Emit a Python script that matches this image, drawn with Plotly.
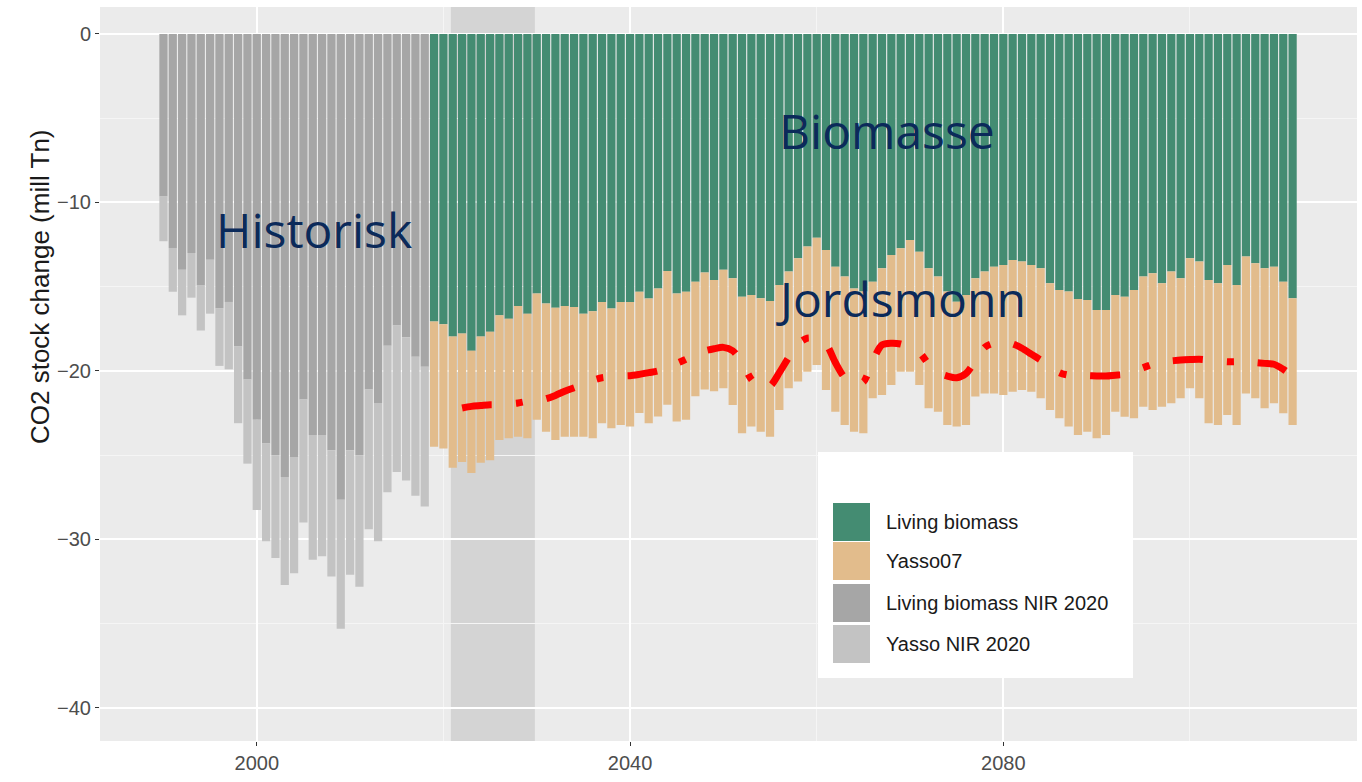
import plotly.graph_objects as go

# historical NIR 2020 series (mill Tn CO2), one bar per year
hist_years = list(range(1990, 2019))
hist_living = [-9.65, -12.7, -14.0, -13.0, -14.9, -13.4, -16.3, -15.9, -18.55, -20.5,
               -22.9, -24.3, -25.0, -26.3, -25.1, -21.7, -23.8, -23.8, -24.7, -27.65,
               -24.7, -25.0, -21.1, -21.9, -18.5, -17.3, -18.0, -19.15, -19.75]
hist_total = [-12.3, -15.3, -16.7, -15.65, -17.6, -16.6, -19.7, -19.9, -23.1, -25.5,
              -28.25, -30.1, -31.1, -32.7, -32.0, -29.0, -31.2, -31.0, -32.2, -35.3,
              -32.1, -32.8, -29.4, -30.1, -27.2, -26.0, -26.5, -27.4, -28.05]

# projection: living biomass and living biomass + Yasso07 soil
proj_years = list(range(2019, 2112))
proj_living = [-17.07, -17.23, -17.96, -17.77, -18.8, -17.96, -17.67, -16.7, -16.9, -16.15,
               -16.6, -15.4, -16.0, -16.25, -16.15, -16.2, -16.6, -16.45, -15.9, -16.3,
               -15.9, -15.9, -15.3, -15.7, -15.1, -14.07, -15.4, -15.3, -14.7, -14.15,
               -14.6, -14.0, -14.5, -15.59, -15.49, -15.69, -15.85, -14.9, -14.1, -13.31,
               -12.62, -12.09, -12.82, -13.81, -14.4, -15.1, -15.29, -14.7, -13.91, -13.12,
               -12.72, -12.23, -12.92, -13.91, -14.4, -15.29, -15.89, -15.49, -14.5, -14.1,
               -13.81, -13.71, -13.41, -13.51, -13.71, -13.91, -14.8, -15.19, -15.29, -15.73,
               -15.79, -16.38, -16.38, -15.49, -15.59, -15.19, -14.4, -14.2, -14.8, -14.1,
               -14.5, -13.31, -13.51, -14.6, -14.8, -13.71, -14.9, -13.21, -13.61, -13.91,
               -13.81, -14.7, -15.69]
proj_total = [-24.5, -24.6, -25.75, -25.4, -26.05, -25.45, -25.3, -24.1, -24.0, -23.9,
              -24.0, -22.9, -23.6, -24.1, -23.9, -23.9, -23.9, -24.0, -23.1, -23.4,
              -23.2, -23.3, -22.5, -23.1, -22.7, -22.0, -23.0, -22.9, -21.5, -21.1,
              -21.2, -21.03, -22.02, -23.7, -23.3, -23.6, -23.9, -22.32, -21.03, -20.63,
              -20.04, -19.64, -21.13, -22.42, -23.2, -23.6, -23.7, -21.62, -21.42, -20.83,
              -20.04, -20.04, -20.83, -22.22, -22.42, -23.2, -23.3, -23.2, -21.52, -21.33,
              -21.33, -21.42, -21.23, -21.13, -21.23, -21.62, -22.32, -22.81, -23.3, -23.8,
              -23.6, -23.99, -23.8, -22.42, -22.71, -22.81, -22.12, -22.32, -22.12, -21.92,
              -21.62, -21.03, -21.62, -23.1, -23.2, -22.61, -23.2, -21.33, -21.62, -22.22,
              -21.92, -22.51, -23.2]

# smoothed red dash-dot line
line_years = list(range(2022, 2112))
line_values = [-22.2, -22.1, -22.05, -22.0, -22.0, -21.95, -21.9, -21.8, -21.75, -21.65,
               -21.45, -21.2, -21.0, -20.8, -20.55, -20.4, -20.35, -20.3, -20.28, -20.2,
               -20.1, -20.0, -19.8, -19.55, -19.3, -19.0, -18.8, -18.68, -18.6, -18.8,
               -19.5, -20.5, -21.0, -20.9, -20.1, -19.2, -18.4, -18.05, -18.1, -18.4,
               -19.5, -20.4, -20.75, -20.65, -19.4, -18.45, -18.35, -18.4, -18.6, -18.9,
               -19.6, -20.1, -20.3, -20.4, -20.15, -19.4, -18.6, -18.35, -18.3, -18.4,
               -18.65, -19.0, -19.35, -19.7, -20.1, -20.25, -20.28, -20.28, -20.3, -20.3,
               -20.25, -20.2, -20.0, -19.8, -19.6, -19.45, -19.4, -19.35, -19.32, -19.3,
               -19.35, -19.4, -19.45, -19.45, -19.48, -19.5, -19.55, -19.6, -19.9, -20.3]

hist_yasso = [round(t - l, 2) for t, l in zip(hist_total, hist_living)]
proj_yasso = [round(t - l, 2) for t, l in zip(proj_total, proj_living)]

legend_names = ["Living biomass", "Yasso07", "Living biomass NIR 2020", "Yasso NIR 2020"]
legend_colors = ["#448c72", "#e2bc8c", "#a6a6a6", "#c3c3c3"]

# plot area in pixels (1362x782 page)
PL, PR, PT, PB = 100, 1357, 7, 741


def px_x(px):
    return (px - PL) / (PR - PL)


def px_y(py):
    return 1 - (py - PT) / (PB - PT)


fig = go.Figure()
fig.add_trace(go.Bar(x=hist_years, y=hist_living, name=legend_names[2], marker={"color": legend_colors[2], "line": {"width": 0}}))
fig.add_trace(go.Bar(x=hist_years, y=hist_yasso, name=legend_names[3], marker={"color": legend_colors[3], "line": {"width": 0}}))
fig.add_trace(go.Bar(x=proj_years, y=proj_living, name=legend_names[0], marker={"color": legend_colors[0], "line": {"width": 0}}))
fig.add_trace(go.Bar(x=proj_years, y=proj_yasso, name=legend_names[1], marker={"color": legend_colors[1], "line": {"width": 0}}))
fig.add_trace(go.Scatter(x=line_years, y=line_values, mode="lines", line={"color": "#ff0000", "width": 7, "dash": "30px,24px,7px,24px", "shape": "spline", "smoothing": 0.8}, hoverinfo="skip"))

shapes = [dict(type="rect", xref="x", yref="paper", x0=2020.8, x1=2029.8, y0=0, y1=1, fillcolor="#d4d4d4", line={"width": 0}, layer="below")]
annotations = []

# legend drawn as a ggplot-style key box
shapes.append(dict(type="rect", xref="paper", yref="paper", x0=px_x(818), x1=px_x(1133), y0=px_y(678), y1=px_y(452), fillcolor="#ffffff", line={"width": 0}, layer="above"))
key_tops = [503, 542, 584, 625]
for name, color, top in zip(legend_names, legend_colors, key_tops):
    shapes.append(dict(type="rect", xref="paper", yref="paper", x0=px_x(833), x1=px_x(870), y0=px_y(top + 38), y1=px_y(top), fillcolor=color, line={"width": 0}, layer="above"))
    annotations.append(dict(xref="paper", yref="paper", x=px_x(884), y=px_y(top + 19), text=name, showarrow=False, xanchor="left", yanchor="middle", font={"family": "Liberation Sans, Arial", "size": 20, "color": "#1a1a1a"}))

label_font = {"family": "Open Sans", "size": 48, "color": "#0b2a5a"}
annotations += [
    dict(x=2006.1, y=-11.6, text="Historisk", showarrow=False, font=label_font),
    dict(x=2067.5, y=-5.7, text="Biomasse", showarrow=False, font=label_font),
    dict(x=2069.0, y=-15.7, text="Jordsmonn", showarrow=False, font=label_font),
    dict(xref="paper", yref="paper", x=px_x(40), y=px_y(287), text="CO2 stock change (mill Tn)", textangle=-90, showarrow=False, xanchor="center", yanchor="middle", font={"family": "Liberation Sans, Arial", "size": 26, "color": "#1a1a1a"}),
]

fig.update_layout(
    width=1362, height=782,
    margin={"l": PL, "r": 1362 - PR, "t": PT, "b": 782 - PB, "autoexpand": False},
    barmode="relative", bargap=0.12, showlegend=False,
    plot_bgcolor="#ebebeb", paper_bgcolor="#ffffff",
    shapes=shapes, annotations=annotations,
    font={"family": "Liberation Sans, Arial"},
)
fig.update_xaxes(range=[1983.2, 2117.9], tick0=2000, dtick=40, showgrid=True, gridcolor="#ffffff", gridwidth=1.8, zeroline=False,
                 minor={"dtick": 20, "showgrid": True, "gridcolor": "#f5f5f5", "gridwidth": 1},
                 ticks="outside", ticklen=4, tickcolor="#333333", tickfont={"size": 20, "color": "#4d4d4d"})
fig.update_yaxes(range=[-41.96, 1.6], tick0=0, dtick=10, showgrid=True, gridcolor="#ffffff", gridwidth=1.8, zeroline=False,
                 minor={"dtick": 5, "showgrid": True, "gridcolor": "#f5f5f5", "gridwidth": 1},
                 ticks="outside", ticklen=4, tickcolor="#333333", tickfont={"size": 20, "color": "#4d4d4d"})

fig.write_html("out.html", config={"displayModeBar": False}, post_script="document.body.style.margin = '0px';")
